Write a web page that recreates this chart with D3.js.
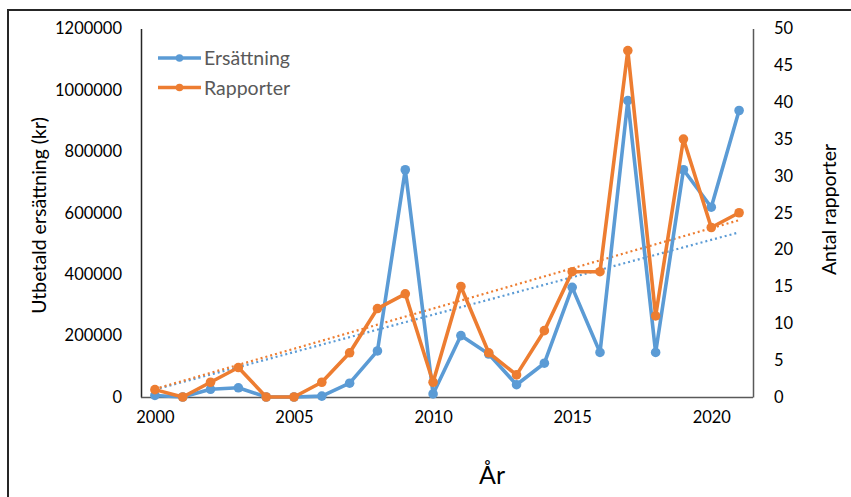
<!DOCTYPE html>
<html><head><meta charset="utf-8">
<script src="https://cdn.jsdelivr.net/npm/d3@7"></script>
<style>
html,body{margin:0;padding:0;background:#fff;}
svg{display:block;font-family:Lato,"Open Sans",sans-serif;}
</style></head>
<body><svg id="c" width="851" height="497"></svg>
<script>
const years = [2000,2001,2002,2003,2004,2005,2006,2007,2008,2009,2010,2011,2012,2013,2014,2015,2016,2017,2018,2019,2020,2021];
const ersattning = [5000,0,25000,30000,0,0,3000,45000,150000,740000,10000,200000,140000,40000,110000,357000,145000,965000,145000,740000,618000,933000];
const rapporter = [1,0,2,4,0,0,2,6,12,14,2,15,6,3,9,17,17,47,11,35,23,25];
const leftTicks = [0,200000,400000,600000,800000,1000000,1200000];
const rightTicks = [0,5,10,15,20,25,30,35,40,45,50];
const xTickLabels = [2000,2005,2010,2015,2020];
const seriesNames = ["Ersättning","Rapporter"];
const colors = ["#5B9BD5","#ED7D31"];

const svg = d3.select("#c");
const L=141, R=753, T=28.5, B=397;

// outer frame
svg.append("rect").attr("x",8).attr("y",10).attr("width",900).attr("height",600)
  .attr("fill","none").attr("stroke","#262626").attr("stroke-width",2);

const x = d3.scalePoint().domain(years).range([L,R]).padding(0.5);
const yL = d3.scaleLinear().domain([0,1200000]).range([B,T]);
const yR = d3.scaleLinear().domain([0,50]).range([B,T]);

// axes
const axL = svg.append("g").attr("transform",`translate(${L},0)`)
  .call(d3.axisLeft(yL).tickValues(leftTicks).tickSize(0).tickPadding(19).tickFormat(d3.format("d")));
const axR = svg.append("g").attr("transform",`translate(${R},0)`)
  .call(d3.axisRight(yR).tickValues(rightTicks).tickSize(0).tickPadding(21).tickFormat(d3.format("d")));
const axB = svg.append("g").attr("transform",`translate(0,${B})`)
  .call(d3.axisBottom(x).tickValues(xTickLabels).tickSize(0).tickPadding(14));
axB.select(".domain").attr("d",`M${L},0.5H${R}`);
[axL,axR,axB].forEach(a=>{
  a.select(".domain").attr("stroke","#595959").attr("stroke-width",1.5);
  a.selectAll("text").attr("font-size","16.5px").attr("fill","#000").attr("font-family","Lato");
});
axL.select(".domain").attr("stroke","#262626");

// trendlines: least squares through the origin on category number (1..n), as Excel draws them here
function trend(vals){
  const xs=vals.map((v,i)=>i+1);
  const b=d3.sum(xs,(xi,i)=>xi*vals[i])/d3.sum(xs,xi=>xi*xi);
  return [b*xs[0], b*xs[xs.length-1]];
}
const tE=trend(ersattning), tR=trend(rapporter);
svg.append("line").attr("x1",x(years[0])).attr("x2",x(years[years.length-1]))
  .attr("y1",yL(tE[0])).attr("y2",yL(tE[1])).attr("stroke",colors[0]).attr("stroke-width",2.2).attr("stroke-dasharray","2,3");
svg.append("line").attr("x1",x(years[0])).attr("x2",x(years[years.length-1]))
  .attr("y1",yR(tR[0])).attr("y2",yR(tR[1])).attr("stroke",colors[1]).attr("stroke-width",2.2).attr("stroke-dasharray","2,3");

// series
function drawSeries(vals,yS,col){
  const line=d3.line().x((d,i)=>x(years[i])).y(d=>yS(d));
  svg.append("path").datum(vals).attr("d",line).attr("fill","none").attr("stroke",col)
    .attr("stroke-width",3.6).attr("stroke-linejoin","round");
  svg.append("g").selectAll("circle").data(vals).join("circle")
    .attr("cx",(d,i)=>x(years[i])).attr("cy",d=>yS(d)).attr("r",4.8).attr("fill",col);
}
drawSeries(ersattning,yL,colors[0]);
drawSeries(rapporter,yR,colors[1]);

// legend
const lg = svg.append("g");
seriesNames.forEach((n,i)=>{
  const yy = 58 + i*29.5;
  lg.append("line").attr("x1",158).attr("x2",201).attr("y1",yy).attr("y2",yy).attr("stroke",colors[i]).attr("stroke-width",3.5);
  lg.append("circle").attr("cx",179.5).attr("cy",yy).attr("r",3.8).attr("fill",colors[i]);
  lg.append("text").attr("x",204).attr("y",yy+7).text(n).attr("font-size","19.5px").attr("fill","#595959");
});

// axis titles
svg.append("text").attr("transform",`translate(46,215.5) rotate(-90)`).attr("text-anchor","middle")
  .attr("font-size","19.5px").attr("fill","#000").text("Utbetald ersättning (kr)");
svg.append("text").attr("transform",`translate(836,209.5) rotate(-90)`).attr("text-anchor","middle")
  .attr("font-size","19.5px").attr("fill","#000").text("Antal rapporter");
svg.append("text").attr("x",492).attr("y",484).attr("text-anchor","middle")
  .attr("font-size","25px").attr("fill","#000").text("År");
</script></body></html>
